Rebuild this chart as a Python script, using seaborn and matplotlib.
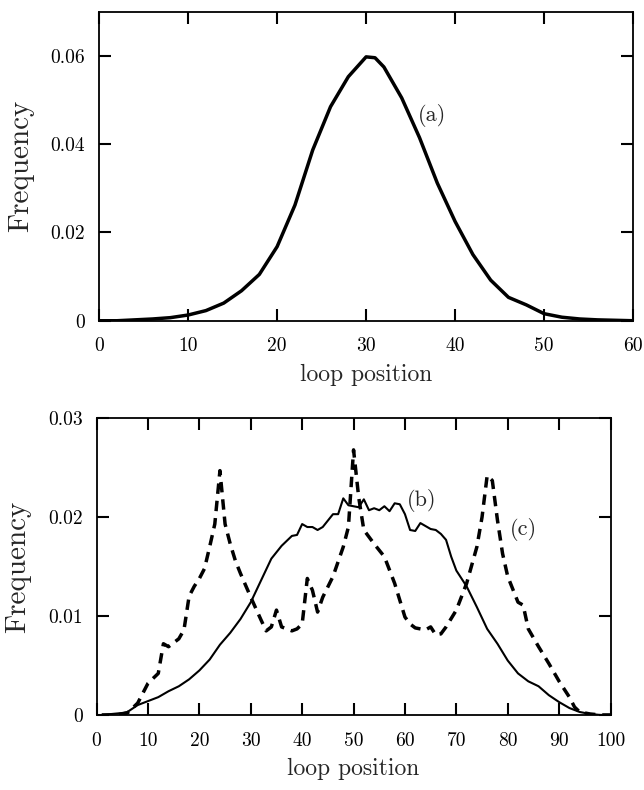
import pandas as pd
import seaborn as sns
import matplotlib.pyplot as plt

# (a) loop position distribution, top panel
pos_a = [0, 2, 4, 6, 8, 10, 12, 14, 16, 18, 20, 22, 24, 26, 28, 30, 31, 32, 34,
         36, 38, 40, 42, 44, 46, 48, 50, 52, 54, 56, 58, 60]
freq_a = [0.0, 0.0, 0.0002, 0.0004, 0.0007, 0.0013, 0.0023, 0.0040, 0.0068, 0.0105,
          0.0168, 0.0262, 0.0387, 0.0485, 0.0553, 0.0598, 0.0596, 0.0575, 0.0505,
          0.0415, 0.0312, 0.0225, 0.0150, 0.0092, 0.0053, 0.0036, 0.0016, 0.0008,
          0.0004, 0.0002, 0.0001, 0.0]

# (b) solid curve, bottom panel
pos_b = [1, 5, 6, 8, 10, 12, 14, 16, 18, 20, 22, 24, 26, 28, 30, 32, 34, 36, 38,
         39, 40, 41, 42, 43, 44, 46, 47, 48, 49, 50, 51, 52, 53, 54, 55, 56, 57,
         58, 59, 60, 61, 62, 63, 64, 65, 66, 67, 68, 69, 70, 72, 74, 76, 78, 80,
         82, 84, 86, 88, 90, 92, 94, 96, 98, 100]
freq_b = [0.0, 0.0002, 0.0003, 0.0010, 0.0014, 0.0018, 0.0024, 0.0029, 0.0036,
          0.0045, 0.0056, 0.0071, 0.0083, 0.0097, 0.0114, 0.0136, 0.0158, 0.0171,
          0.0181, 0.0182, 0.0193, 0.0190, 0.0190, 0.0187, 0.0190, 0.0203, 0.0203,
          0.0219, 0.0212, 0.0211, 0.0210, 0.0218, 0.0207, 0.0209, 0.0207, 0.0211,
          0.0206, 0.0214, 0.0213, 0.0203, 0.0187, 0.0186, 0.0194, 0.0191, 0.0188,
          0.0187, 0.0183, 0.0177, 0.0160, 0.0146, 0.0130, 0.0109, 0.0087, 0.0072,
          0.0055, 0.0042, 0.0034, 0.0029, 0.0020, 0.0013, 0.0007, 0.0003, 0.0001,
          0.0, 0.0]

# (c) dashed curve, bottom panel
pos_c = [1, 4, 6, 7, 8, 10, 12, 13, 14, 16, 17, 18, 19, 20, 21, 22, 23, 24, 25,
         26, 27, 28, 30, 32, 33, 34, 35, 36, 37, 38, 39, 40, 41, 42, 43, 44, 46,
         48, 49, 50, 51, 52, 54, 56, 58, 59, 60, 61, 62, 64, 65, 66, 67, 68, 70,
         72, 74, 75, 76, 77, 78, 79, 80, 82, 83, 84, 86, 88, 90, 92, 93, 94, 96,
         98, 100]
freq_c = [0.0, 0.0, 0.0002, 0.0007, 0.0012, 0.0032, 0.0042, 0.0072, 0.0069, 0.0077,
          0.0086, 0.0120, 0.0130, 0.0138, 0.0148, 0.0170, 0.0193, 0.0247, 0.0193,
          0.0173, 0.0156, 0.0143, 0.0119, 0.0096, 0.0085, 0.0089, 0.0106, 0.0089,
          0.0087, 0.0085, 0.0087, 0.0092, 0.0138, 0.0126, 0.0104, 0.0119, 0.0140,
          0.0170, 0.0190, 0.0268, 0.0220, 0.0187, 0.0173, 0.0160, 0.0133, 0.0116,
          0.0099, 0.0092, 0.0088, 0.0086, 0.0089, 0.0081, 0.0082, 0.0089, 0.0106,
          0.0133, 0.0170, 0.0200, 0.0242, 0.0237, 0.0197, 0.0163, 0.0140, 0.0114,
          0.0111, 0.0087, 0.0069, 0.0052, 0.0034, 0.0018, 0.0008, 0.0003, 0.0001,
          0.0, 0.0]

yticks_a = [0, 0.02, 0.04, 0.06]
yticks_a_labels = ["0", "0.02", "0.04", "0.06"]
yticks_b = [0, 0.01, 0.02, 0.03]
yticks_b_labels = ["0", "0.01", "0.02", "0.03"]

sns.set_style("ticks")
plt.rcParams["font.family"] = ["cmr10", "DejaVu Serif"]
plt.rcParams["axes.unicode_minus"] = False

df_a = pd.DataFrame({"pos": pos_a, "freq": freq_a})
df_b = pd.DataFrame({"pos": pos_b, "freq": freq_b})
df_c = pd.DataFrame({"pos": pos_c, "freq": freq_c})

fig = plt.figure(figsize=(6.44, 7.9), dpi=100)
ax1 = fig.add_axes([0.154, 0.594, 0.829, 0.391])
ax2 = fig.add_axes([0.150, 0.095, 0.798, 0.3756])


def style_axis(ax):
    for sp in ax.spines.values():
        sp.set_visible(True)
        sp.set_linewidth(1.3)
        sp.set_color("black")
    ax.tick_params(direction="in", length=8.5, width=1.5, top=True, right=True,
                   labelsize=14, colors="black")
    ax.tick_params(axis="x", pad=12)
    ax.tick_params(axis="y", pad=10)
    ax.set_xlabel("loop position", fontsize=17, labelpad=6)
    ax.set_ylabel("Frequency", fontsize=21, labelpad=12)


# top panel
sns.lineplot(data=df_a, x="pos", y="freq", ax=ax1, color="black", linewidth=2.5)
ax1.set_xlim(0, 60)
ax1.set_ylim(0, 0.07)
ax1.set_xticks(range(0, 61, 10))
ax1.set_yticks(yticks_a, yticks_a_labels)
style_axis(ax1)
ax1.text(37.4, 0.0466, "(a)", fontsize=16, ha="center", va="center")

# bottom panel
sns.lineplot(data=df_b, x="pos", y="freq", ax=ax2, color="black", linewidth=1.5)
sns.lineplot(data=df_c, x="pos", y="freq", ax=ax2, color="black", linewidth=2.5,
             linestyle=(0, (3, 2)))
ax2.set_xlim(0, 100)
ax2.set_ylim(0, 0.03)
ax2.set_xticks(range(0, 101, 10))
ax2.set_yticks(yticks_b, yticks_b_labels)
style_axis(ax2)
ax2.text(63.3, 0.0217, "(b)", fontsize=16, ha="center", va="center")
ax2.text(83.1, 0.0188, "(c)", fontsize=16, ha="center", va="center")

fig.savefig("out.png", dpi=100)
